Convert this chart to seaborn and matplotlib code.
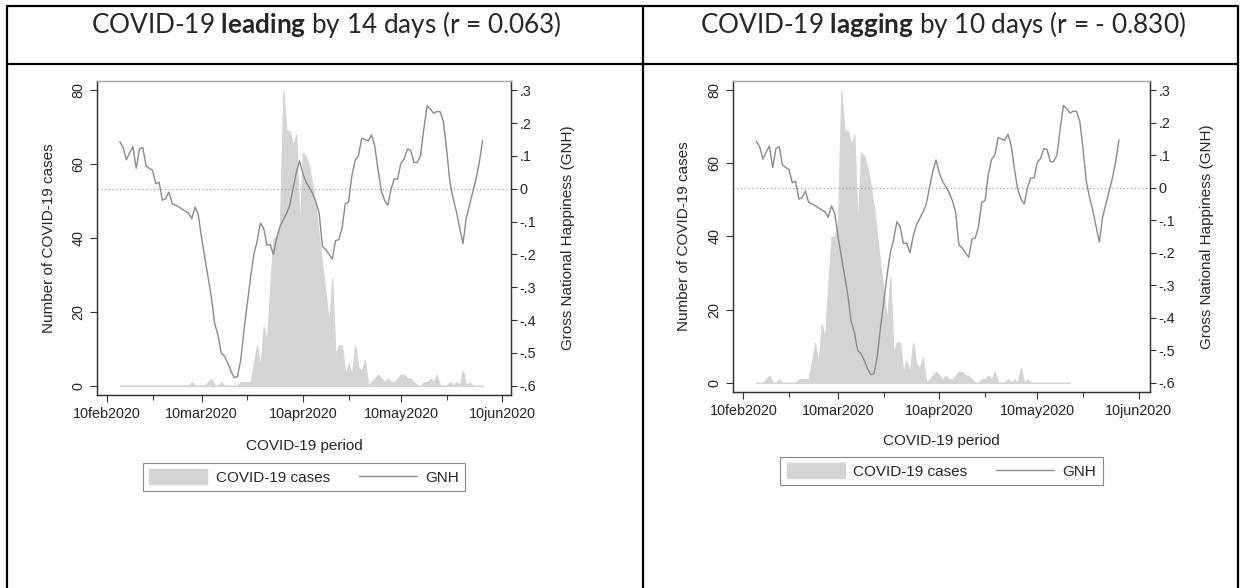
import matplotlib.pyplot as plt
import numpy as np
import pandas as pd
import seaborn as sns
from matplotlib.lines import Line2D
from matplotlib.patches import Patch


# daily GNH index, same in both panels
GNH_START = "2020-02-14"
GNH = [
    0.143, 0.126, 0.088, 0.11, 0.128, 0.062, 0.121, 0.126, 0.07, 0.062,
    0.056, 0.015, 0.02, -0.035, -0.03, -0.01, -0.045, -0.05, -0.055, -0.062,
    -0.068, -0.074, -0.091, -0.056, -0.079, -0.15, -0.21, -0.27, -0.33, -0.41,
    -0.445, -0.50, -0.51, -0.53, -0.555, -0.575, -0.572, -0.52, -0.43, -0.35,
    -0.27, -0.20, -0.16, -0.105, -0.12, -0.172, -0.17, -0.20, -0.15, -0.115,
    -0.095, -0.075, -0.05, 0.0, 0.05, 0.085, 0.045, 0.02, 0.003, -0.015,
    -0.04, -0.075, -0.176, -0.185, -0.20, -0.214, -0.158, -0.155, -0.12, -0.045,
    -0.04, 0.04, 0.087, 0.10, 0.154, 0.15, 0.146, 0.164, 0.13, 0.058,
    -0.005, -0.035, -0.05, 0.0, 0.03, 0.03, 0.078, 0.09, 0.121, 0.117,
    0.08, 0.08, 0.10, 0.18, 0.253, 0.243, 0.23, 0.235, 0.235, 0.205,
    0.12, 0.02, -0.03, -0.07, -0.12, -0.167, -0.09, -0.05, -0.01, 0.03,
    0.08, 0.147,
]

# daily COVID-19 cases (unshifted), shifted per panel below
CASES_START = "2020-01-31"
CASES = [
    0, 0, 0, 0, 0, 0, 0, 0, 0, 0, 0, 0, 0, 0, 0, 0, 0, 0, 0, 0, 0, 0,
    1, 0, 0, 0, 0, 1, 2, 0, 0, 1, 0, 0, 0, 0, 0,
    1, 1, 1, 1, 6, 11, 5, 16, 12, 27,
    40, 40, 44, 80, 69, 69, 65, 68, 42, 63,
    62, 59, 54, 48, 40, 32, 25, 17, 29, 8,
    11, 11, 3, 6, 3, 11, 5, 4, 7, 0,
    1, 2, 3, 2, 1, 2, 1, 1, 2, 3,
    3, 2, 2, 1, 0, 0, 1, 1, 2, 1,
    3, 0, 0, 0, 1, 0, 1, 0, 4, 0,
    1, 0, 0, 0, 0, 0, 0, 0, 0, 0, 0, 0, 0, 0,
]

PANEL_WORDS = ["leading", "lagging"]
PANEL_DAYS = [14, 10]
PANEL_SHIFT = [14, -10]
PANEL_R = ["0.063", "- 0.830"]

X_LABELS = ["2020-02-10", "2020-03-10", "2020-04-10", "2020-05-10", "2020-06-10"]
X_MINOR = ["2020-02-24", "2020-03-24", "2020-04-24", "2020-05-24"]
CASE_TICKS = [0, 20, 40, 60, 80]
GNH_TICKS = [0.3, 0.2, 0.1, 0.0, -0.1, -0.2, -0.3, -0.4, -0.5, -0.6]

AREA_COLOR = "#d4d4d4"
LINE_COLOR = "#8a8a8a"

W, H = 1244, 588

sns.set_theme(style="white")
plt.rcParams["font.family"] = ["Liberation Sans", "DejaVu Sans"]
plt.rcParams["mathtext.fontset"] = "custom"
plt.rcParams["mathtext.rm"] = "Lato"
plt.rcParams["mathtext.bf"] = "Lato:bold"


def gnh_label(v):
    if abs(v) < 1e-9:
        return "0"
    return f"{v:.1f}".replace("0.", ".")


gnh_df = pd.DataFrame({
    "date": pd.date_range(GNH_START, periods=len(GNH), freq="D"),
    "gnh": GNH,
})
win_start, win_end = gnh_df["date"].min(), gnh_df["date"].max()

fig = plt.figure(figsize=(W / 100, H / 100), dpi=100)


def px_line(x0, y0, x1, y1):
    fig.add_artist(Line2D([x0 / W, x1 / W], [1 - y0 / H, 1 - y1 / H],
                          transform=fig.transFigure, color="black", lw=1.6))


# table grid
px_line(7, 6, 1238, 6)
px_line(7, 64, 1238, 64)
px_line(7, 6, 7, H)
px_line(643, 6, 643, H)
px_line(1238, 6, 1238, H)

# left, right, bottom (px), x-limits (days from 10feb2020), title centre,
# x-label top, legend top (px)
panels_px = [
    (97, 511, 395, -3.0, 123.7, 326, 439, 463),
    (733, 1150, 392, -3.15, 124.5, 943, 434, 457),
]
top_px = 81
day0 = pd.Timestamp("2020-02-10")

for i, (lpx, rpx, bottom_px, d_lo, d_hi, cx, xlab_top, leg_top) in enumerate(panels_px):
    ax_h = bottom_px - top_px
    ax = fig.add_axes([lpx / W, 1 - bottom_px / H, (rpx - lpx) / W, ax_h / H])
    ax2 = ax.twinx()

    cases_df = pd.DataFrame({
        "date": pd.date_range(CASES_START, periods=len(CASES), freq="D")
        + pd.Timedelta(days=PANEL_SHIFT[i]),
        "cases": CASES,
    })
    cases_df = cases_df[(cases_df["date"] >= win_start) & (cases_df["date"] <= win_end)]

    ax.fill_between(cases_df["date"], cases_df["cases"], 0,
                    facecolor=AREA_COLOR, edgecolor=AREA_COLOR, lw=0.8)
    ax2.axhline(0, color="#a0a0a0", lw=0.9, ls=(0, (1, 2)))
    sns.lineplot(data=gnh_df, x="date", y="gnh", ax=ax2,
                 color=LINE_COLOR, lw=1.0)

    ax.set_xlim(day0 + pd.Timedelta(days=d_lo), day0 + pd.Timedelta(days=d_hi))
    ax.set_ylim(-2.5, 82.5)
    ax2.set_ylim(-0.628125, 0.328125)

    ax.set_xticks(pd.to_datetime(X_LABELS))
    ax.set_xticklabels([pd.Timestamp(d).strftime("%d%b%Y").lower() for d in X_LABELS])
    ax.set_xticks(pd.to_datetime(X_MINOR), minor=True)
    ax.set_yticks(CASE_TICKS)
    ax.set_yticklabels([str(v) for v in CASE_TICKS], rotation=90, va="center")
    ax2.set_yticks(GNH_TICKS)
    ax2.set_yticklabels([gnh_label(v) for v in GNH_TICKS])

    ax.tick_params(axis="x", which="major", direction="out", length=5.2,
                   width=0.8, color="#333333", labelsize=10.4, pad=3.5, bottom=True)
    ax.tick_params(axis="x", which="minor", direction="out", length=3.6,
                   width=0.8, color="#333333", bottom=True)
    ax.tick_params(axis="y", direction="out", length=5.0, width=0.8,
                   color="#333333", labelsize=10.4, pad=3.5, left=True)
    ax2.tick_params(axis="y", direction="out", length=4.3, width=0.8,
                    color="#333333", labelsize=10.4, pad=2, right=True)

    for a in (ax, ax2):
        for side in ("left", "right", "bottom"):
            a.spines[side].set_color("#333333")
            a.spines[side].set_linewidth(0.9)
        a.spines["top"].set_color("#aaaaaa")
        a.spines["top"].set_linewidth(0.9)

    ax.set_xlabel("COVID-19 period", fontsize=11)
    ax.xaxis.set_label_coords(0.5, -(xlab_top - bottom_px) / ax_h)
    ax.set_ylabel("Number of COVID-19 cases", fontsize=11)
    ax.yaxis.set_label_coords(-0.10, 0.5)
    ax2.set_ylabel("Gross National Happiness (GNH)", fontsize=11)
    ax2.yaxis.set_label_coords(1.12, 0.5)

    handles = [Patch(facecolor=AREA_COLOR, edgecolor=AREA_COLOR),
               Line2D([], [], color=LINE_COLOR, lw=1.0)]
    leg = ax.legend(handles, ["COVID-19 cases", "GNH"], loc="upper center",
                    bbox_to_anchor=(0.5, -(leg_top - bottom_px) / ax_h),
                    borderaxespad=0, ncol=2, fontsize=11, handlelength=3.8,
                    handleheight=1.1, handletextpad=0.55, columnspacing=1.9,
                    borderpad=0.42, frameon=True, fancybox=False, framealpha=1)
    leg.get_frame().set_edgecolor("#888888")
    leg.get_frame().set_linewidth(0.8)
    if ax2.get_legend() is not None:
        ax2.get_legend().remove()

    title = (f"COVID-19 $\\mathbf{{{PANEL_WORDS[i]}}}$ by {PANEL_DAYS[i]} days "
             f"(r = {PANEL_R[i]})")
    fig.text(cx / W, 1 - 25 / H, title, fontsize=18.8, family="Lato",
             ha="center", va="center")

fig.savefig("out.png", dpi=100)
